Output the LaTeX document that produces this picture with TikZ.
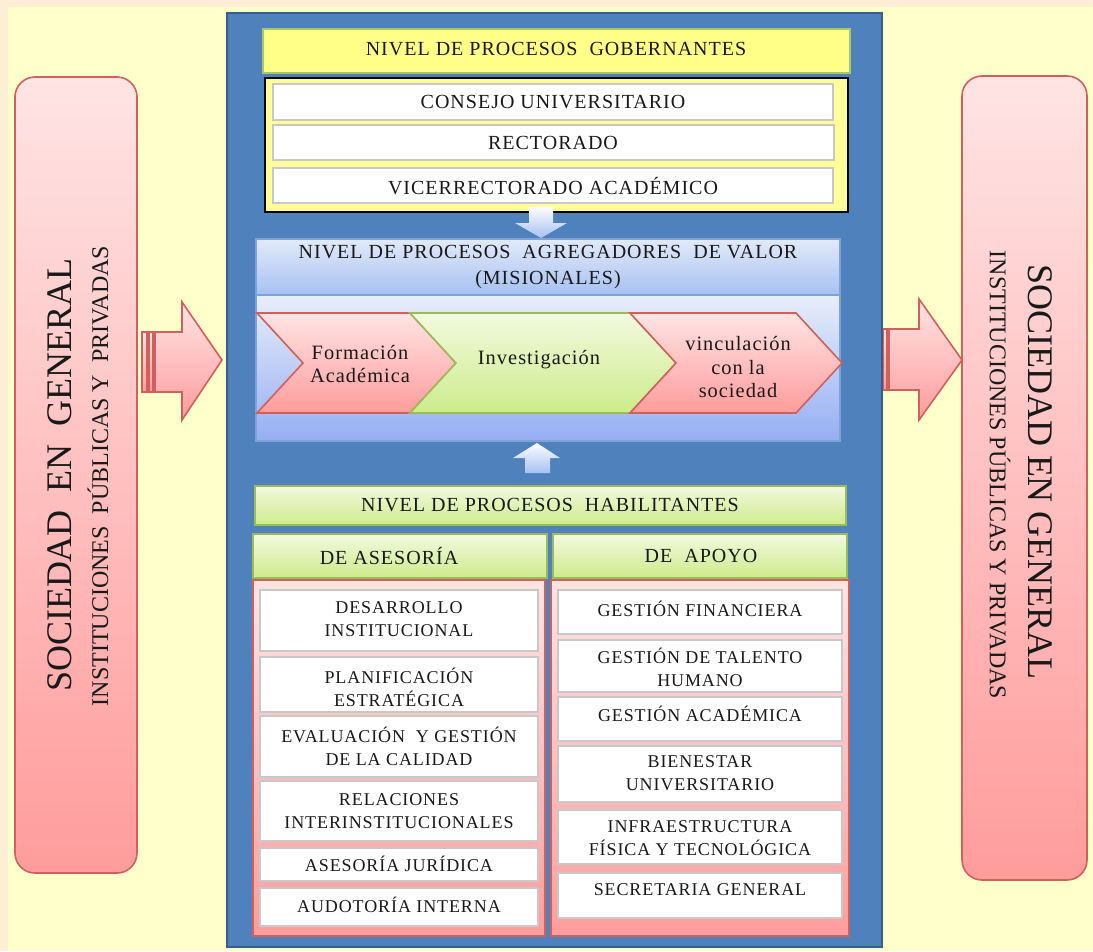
\documentclass[tikz,border=0pt]{standalone}
\usepackage{fontspec}
\setmainfont{Liberation Serif}
\newfontfamily\boxfont{Liberation Serif}[LetterSpace=5]
\newfontfamily\sidefont{Liberation Serif}
\usepackage{tikz}

\definecolor{peachbg}{HTML}{FDEFD5}
\definecolor{yellowbg}{HTML}{FFFFCC}
\definecolor{panelblue}{HTML}{4F81BD}
\definecolor{panelline}{HTML}{385D8A}
\definecolor{govyellow}{HTML}{FFFF88}
\definecolor{govline}{HTML}{A8C66C}
\definecolor{boxyellow}{HTML}{FFFF99}
\definecolor{grayline}{HTML}{C8C8C8}
\definecolor{pinktop}{HTML}{FFE4E4}
\definecolor{pinkbot}{HTML}{FF9C9C}
\definecolor{pinkline}{HTML}{D0605C}
\definecolor{greentop}{HTML}{F2FADF}
\definecolor{greenbot}{HTML}{CDEB8B}
\definecolor{greenline}{HTML}{9BBB59}
\definecolor{bluetop}{HTML}{E2EAF9}
\definecolor{bluebot}{HTML}{A6C1F2}
\definecolor{blueline}{HTML}{7EA3D8}

\tikzset{
  whitebox/.style={draw=grayline, fill=white, line width=1.5},
  pinkshade/.style={draw=pinkline, top color=pinktop, bottom color=pinkbot, line width=1.2},
  greenshade/.style={draw=greenline, top color=greentop, bottom color=greenbot, line width=1.2},
  blueshade/.style={draw=blueline, top color=bluetop, bottom color=bluebot, line width=1},
  bluearrow/.style={draw=none, top color=white!90!bluetop, bottom color=bluebot},
  sidepanel/.style={pinkshade, rounded corners=15pt},
  txt/.style={inner sep=0.75pt, align=center, text=black!90, font=\boxfont\fontsize{13.5}{17.2}\selectfont},
  headtxt/.style={txt, font=\boxfont\fontsize{15}{20}\selectfont},
  chevtxt/.style={txt, font=\boxfont\fontsize{15.3}{17.8}\selectfont},
  bigside/.style={inner sep=0pt, text=black!90, font=\sidefont\fontsize{27}{30}\selectfont},
  smallside/.style={inner sep=0pt, text=black!90, font=\sidefont\fontsize{18}{20}\selectfont}
}

\begin{document}
\begin{tikzpicture}[x=0.75pt,y=0.75pt,yscale=-1,xscale=1]
\useasboundingbox (0,0) rectangle (1093,951);

%Background
\fill [peachbg] (0,0) rectangle (1093,951);
\fill [yellowbg] (8,7) rectangle (1093,951);

%Shape: Side panel left
\draw [sidepanel] (15,77) rectangle (137,873);
% Text Node
\draw (60,475) node [bigside, rotate=90] (socizq) {SOCIEDAD\ \ EN\ \ GENERAL};
% Text Node
\draw (98,476) node [smallside, rotate=90] (instizq) {INSTITUCIONES\ \ PÚBLICAS Y\ \ PRIVADAS};

%Shape: Side panel right
\draw [sidepanel] (962,76) rectangle (1087,880);
% Text Node
\draw (1040,472) node [bigside, rotate=-90] (socder) {SOCIEDAD EN GENERAL};
% Text Node
\draw (1000,475) node [smallside, rotate=-90] (instder) {INSTITUCIONES PÚBLICAS Y PRIVADAS};

%Shape: Block arrow left
\draw [pinkshade] (155,332) -- (182,332) -- (182,302) -- (222,360) -- (182,420) -- (182,392) -- (155,392) -- cycle ;
\draw [pinkshade] (142,332) rectangle (147,392) ;
\draw [pinkshade] (149,332) rectangle (153,392) ;

%Shape: Block arrow right
\draw [pinkshade] (889,329) -- (919,329) -- (919,299) -- (962,360) -- (919,420) -- (919,390) -- (889,390) -- cycle ;
\draw [pinkshade] (876,329) rectangle (881,390) ;
\draw [pinkshade] (883,329) rectangle (887,390) ;

%Shape: Blue panel
\draw [draw=panelline, fill=panelblue, line width=1.5] (227,13) rectangle (882,947);

%Shape: Gobernantes header
\draw [draw=govline, fill=govyellow, line width=1.2] (263,29) rectangle (850,73);
% Text Node
\draw (556,49) node [headtxt] (gobernantes) {NIVEL DE PROCESOS\ \ GOBERNANTES};

%Shape: Gobernantes box
\draw [draw=black, fill=boxyellow, line width=1.5] (265,78) rectangle (848,212);
\draw [whitebox] (273,84) rectangle (833,120);
\draw [whitebox] (273,125) rectangle (834,160);
\draw [whitebox] (273,168) rectangle (833,203);
% Text Node
\draw (553,102) node [headtxt] (consejo) {CONSEJO UNIVERSITARIO};
% Text Node
\draw (553,143) node [headtxt] (rectorado) {RECTORADO};
% Text Node
\draw (553,186) node [headtxt] (vicerrectorado) {VICERRECTORADO ACADÉMICO};

%Shape: Down arrow
\draw [bluearrow] (529,207) -- (553,207) -- (553,223) -- (567,223) -- (541,238) -- (515,223) -- (529,223) -- cycle ;

%Shape: Agregadores header and body
\draw [blueshade] (256,239) rectangle (840,295);
\draw [draw=blueline, top color=bluetop!80!white, bottom color=bluebot!90!blue, line width=1] (256,295) rectangle (840,441);
% Text Node
\draw (548,267) node [headtxt] (agregadores) {NIVEL DE PROCESOS\ \ AGREGADORES\ \ DE VALOR\\(MISIONALES)};

%Shape: Chevrons
\draw [pinkshade] (257,313) -- (410,313) -- (456,363) -- (410,413) -- (257,413) -- (303,363) -- cycle ;
\draw [greenshade] (410,313) -- (630,313) -- (676,363) -- (630,413) -- (410,413) -- (456,363) -- cycle ;
\draw [pinkshade] (630,313) -- (796,313) -- (842,363) -- (796,413) -- (630,413) -- (676,363) -- cycle ;
% Text Node
\draw (360,364) node [chevtxt] (formacion) {Formación\\Académica};
% Text Node
\draw (539,360) node [chevtxt] (investigacion) {Investigación};
% Text Node
\draw (738,367) node [chevtxt] (vinculacion) {vinculación\\con la\\sociedad};

%Shape: Up arrow
\draw [bluearrow] (537,443) -- (560,458) -- (550,458) -- (550,473) -- (525,473) -- (525,458) -- (513,458) -- cycle ;

%Shape: Habilitantes header
\draw [greenshade] (255,486) rectangle (846,525);
% Text Node
\draw (550,505) node [headtxt] (habilitantes) {NIVEL DE PROCESOS\ \ HABILITANTES};
\draw [greenshade] (253,534) rectangle (547,578);
\draw [greenshade] (553,534) rectangle (847,578);
% Text Node
\draw (389,556) node [headtxt] (asesoria) {DE ASESORÍA};
% Text Node
\draw (701,556) node [headtxt] (apoyo) {DE\ \ APOYO};

%Shape: Asesoria column
\draw [pinkshade] (253,580) rectangle (545,936);
\draw [whitebox] (260,590) rectangle (538,651);
\draw [whitebox] (260,657) rectangle (538,712);
\draw [whitebox] (260,716) rectangle (538,777);
\draw [whitebox] (260,781) rectangle (538,841);
\draw [whitebox] (260,848) rectangle (538,881);
\draw [whitebox] (260,888) rectangle (538,926);
% Text Node
\draw (399,619) node [txt] (desarrollo) {DESARROLLO\\INSTITUCIONAL};
% Text Node
\draw (399,687) node [txt] (planificacion) {PLANIFICACIÓN\\ESTRATÉGICA};
% Text Node
\draw (399,746) node [txt] (evaluacion) {EVALUACIÓN\ \ Y GESTIÓN\\DE LA CALIDAD};
% Text Node
\draw (399,811) node [txt] (relaciones) {RELACIONES\\INTERINSTITUCIONALES};
% Text Node
\draw (399,864) node [txt] (juridica) {ASESORÍA JURÍDICA};
% Text Node
\draw (399,905) node [txt] (auditoria) {AUDOTORÍA INTERNA};

%Shape: Apoyo column
\draw [pinkshade] (551,580) rectangle (849,936);
\draw [whitebox] (558,590) rectangle (842,634);
\draw [whitebox] (558,640) rectangle (842,692);
\draw [whitebox] (558,697) rectangle (842,741);
\draw [whitebox] (558,746) rectangle (842,802);
\draw [whitebox] (558,810) rectangle (842,864);
\draw [whitebox] (558,873) rectangle (842,918);
% Text Node
\draw (700,609) node [txt] (financiera) {GESTIÓN FINANCIERA};
% Text Node
\draw (700,667) node [txt] (talento) {GESTIÓN DE TALENTO\\HUMANO};
% Text Node
\draw (700,714) node [txt] (academica) {GESTIÓN ACADÉMICA};
% Text Node
\draw (700,773) node [txt] (bienestar) {BIENESTAR\\UNIVERSITARIO};
% Text Node
\draw (700,838) node [txt] (infraestructura) {INFRAESTRUCTURA\\FÍSICA Y TECNOLÓGICA};
% Text Node
\draw (700,890) node [txt] (secretaria) {SECRETARIA GENERAL};

\end{tikzpicture}
\end{document}
